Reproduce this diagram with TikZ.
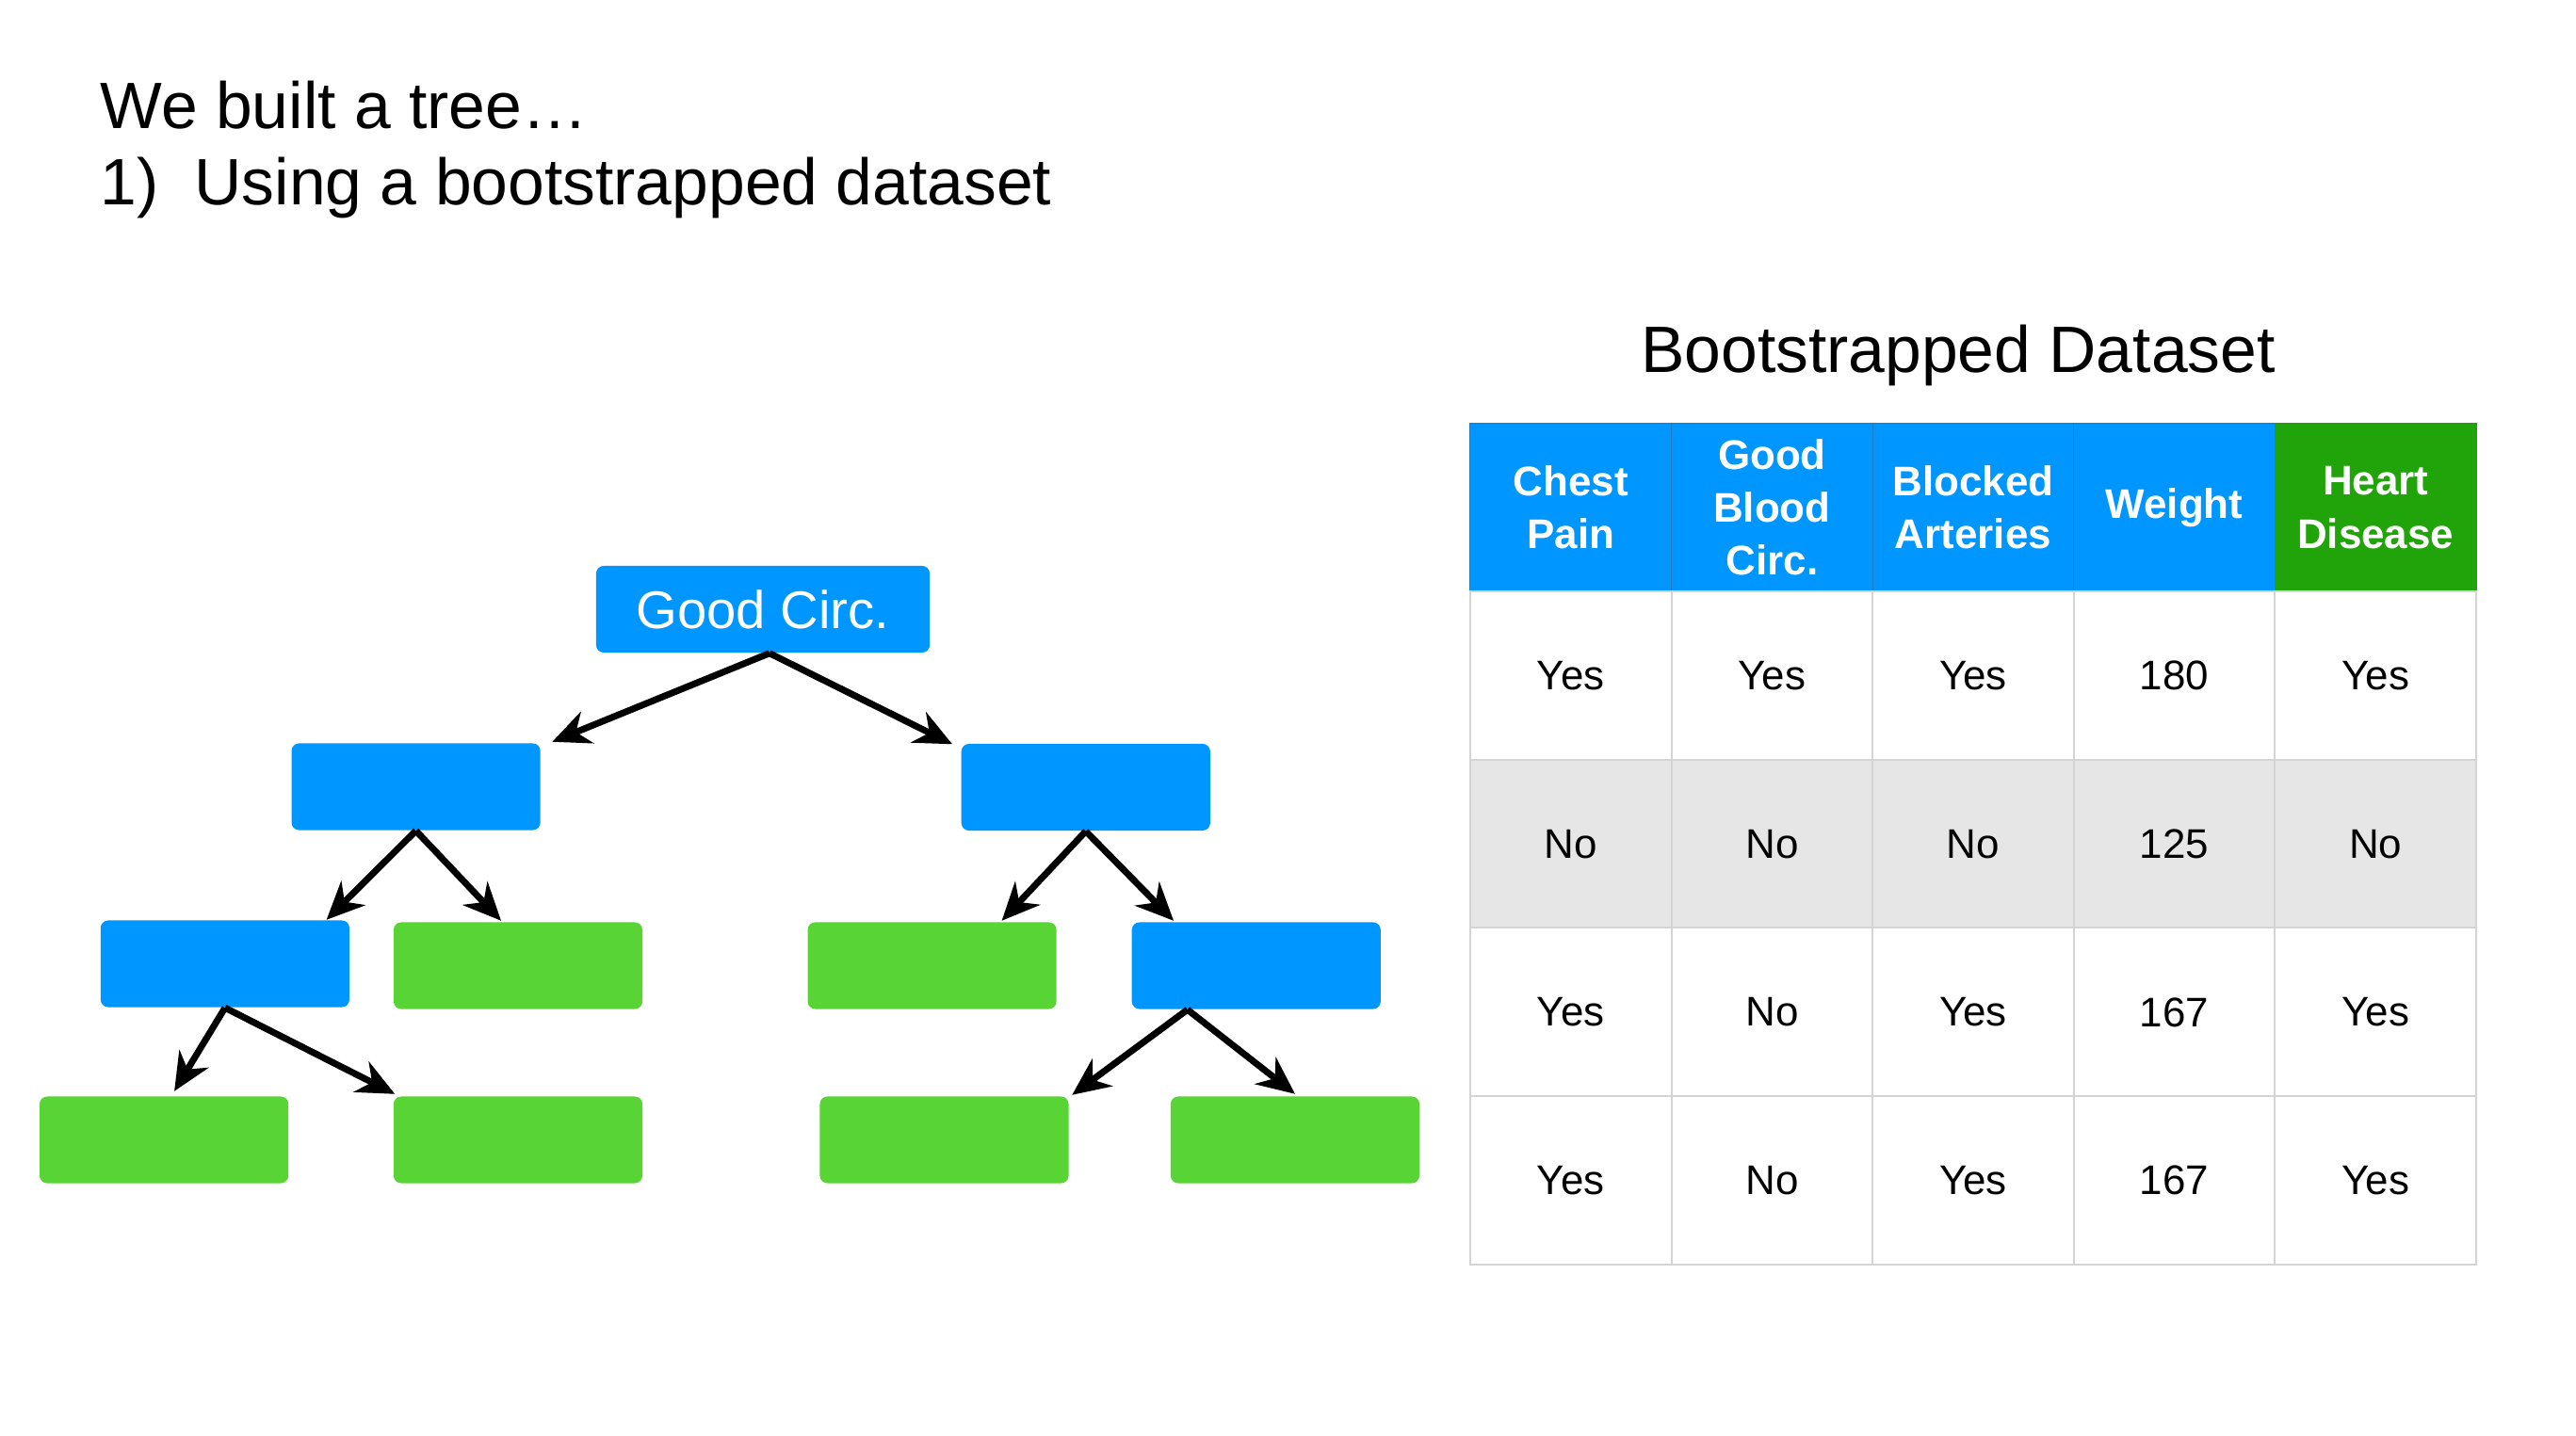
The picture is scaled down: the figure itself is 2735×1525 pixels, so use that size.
\documentclass[tikz,border=0pt]{standalone}
\usepackage{fontspec}
\setmainfont{Liberation Sans}
\usetikzlibrary{arrows.meta,calc}
\definecolor{tblue}{RGB}{0,150,255}
\definecolor{tgreen}{RGB}{88,212,52}
\definecolor{hgreen}{RGB}{33,163,10}
\definecolor{rowgray}{RGB}{230,230,230}
\definecolor{gridgray}{RGB}{212,212,212}
\definecolor{hline}{RGB}{40,120,190}
\begin{document}
\begin{tikzpicture}[x=0.01cm,y=-0.01cm,
  box/.style={rectangle, rounded corners=0.08cm, minimum width=2.64cm, minimum height=0.92cm, inner sep=0pt},
  bluebox/.style={box, fill=tblue},
  greenbox/.style={box, fill=tgreen},
  arr/.style={line width=0.7mm, -{Stealth[length=4mm,width=3.6mm,inset=1.3mm]}},
  cell/.style={rectangle, minimum width=2.136cm, minimum height=1.7875cm, inner sep=0pt, draw=gridgray, line width=0.2mm},
  celltext/.style={font=\fontsize{12.5}{15}\selectfont},
  hcell/.style={rectangle, minimum width=2.136cm, minimum height=1.78cm, inner sep=0pt, draw=hline, line width=0.1mm, text=white, align=center, font=\fontsize{12.5}{16}\selectfont\bfseries},
  bigtext/.style={font=\fontsize{19.8}{23}\selectfont, inner sep=0pt}]
\useasboundingbox[fill=white] (0,0) rectangle (2735,1525);

% titles
\node[bigtext, anchor=base west] (t1) at (106,137) {We built a tree…};
\node[bigtext, anchor=base west] (t2n) at (106,218) {1)};
\node[bigtext, anchor=base west] (t2) at (206,218) {Using a bootstrapped dataset};
\node[font=\fontsize{19.8}{24}\selectfont, inner sep=0pt, anchor=base] (dstitle) at (2079,396) {Bootstrapped Dataset};

% tree
\node[bluebox, minimum width=3.54cm, text=white, font=\fontsize{16}{19}\selectfont] (root) at (810,647) {Good Circ.};
\node[bluebox] (l1l) at (441.6,835.5) {};
\node[bluebox] (l1r) at (1152.8,836) {};
\node[bluebox] (l2a) at (238.9,1023.5) {};
\node[greenbox] (l2b) at (550,1025.5) {};
\node[greenbox] (l2c) at (989.6,1025.5) {};
\node[bluebox] (l2d) at (1333.8,1025.5) {};
\node[greenbox] (l3a) at (174.1,1210.5) {};
\node[greenbox] (l3b) at (550,1210.5) {};
\node[greenbox] (l3c) at (1002.5,1210.5) {};
\node[greenbox] (l3d) at (1375,1210.5) {};

\draw[arr] ($(root.south)+(7,0)$) -- ($(l1l.north east)+(12,-1)$);
\draw[arr] ($(root.south)+(7,0)$) -- ($(l1r.north west)+(-9,1)$);
\draw[arr] (l1l.south) -- ($(l2a.north east)+(-25,0)$);
\draw[arr] (l1l.south) -- ($(l2b.north)+(-18,-1)$);
\draw[arr] (l1r.south) -- ($(l2c.north)+(74,-1)$);
\draw[arr] (l1r.south) -- ($(l2d.north west)+(45,-1)$);
\draw[arr] (l2a.south) -- ($(l3a.north)+(11,-5)$);
\draw[arr] (l2a.south) -- ($(l3b.north west)+(2,-2)$);
\draw[arr] ($(l2d.south)+(-73,0)$) -- ($(l3c.north east)+(3,-1)$);
\draw[arr] ($(l2d.south)+(-73,0)$) -- ($(l3d.north)+(0,-2)$);

% table header
\node[hcell, fill=tblue] (h1) at (1667.8,539) {Chest\\Pain};
\node[hcell, fill=tblue] (h2) at (1881.4,539) {Good\\Blood\\Circ.};
\node[hcell, fill=tblue] (h3) at (2095,539) {Blocked\\Arteries};
\node[hcell, fill=tblue] (h4) at (2308.6,539) {Weight};
\node[hcell, fill=hgreen] (h5) at (2522.2,539) {Heart\\Disease};

% table body
\foreach \row/\yy/\bg in {1/717.4/white, 2/896.1/rowgray, 3/1074.9/white, 4/1253.6/white}{
  \foreach \col/\xx in {1/1667.8, 2/1881.4, 3/2095, 4/2308.6, 5/2522.2}{
    \node[cell, fill=\bg] (c-\row-\col) at (\xx,\yy) {};
  }
}
\foreach \col/\a/\b/\c/\d in {1/Yes/No/Yes/Yes, 2/Yes/No/No/No, 3/Yes/No/Yes/Yes, 4/180/125/167/167, 5/Yes/No/Yes/Yes}{
  \node[celltext] (v-1-\col) at (c-1-\col) {\a};
  \node[celltext] (v-2-\col) at (c-2-\col) {\b};
  \node[celltext] (v-3-\col) at (c-3-\col) {\c};
  \node[celltext] (v-4-\col) at (c-4-\col) {\d};
}
\end{tikzpicture}
\end{document}
